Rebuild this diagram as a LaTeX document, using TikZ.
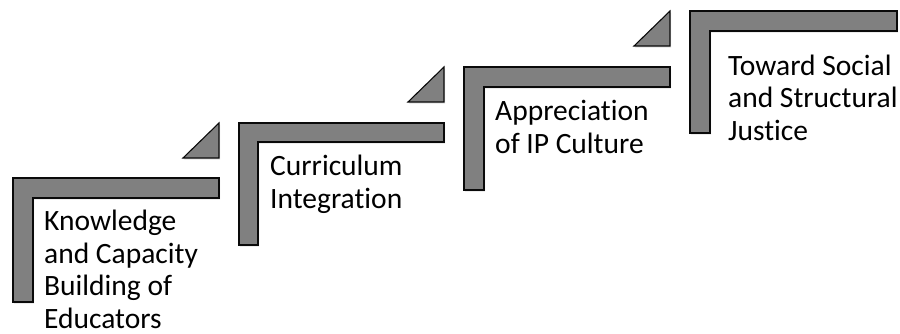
\documentclass[tikz,border=0pt]{standalone}
\usepackage{fontspec}
\setmainfont{Carlito}[Ligatures=NoCommon]
\usetikzlibrary{shadows}
\definecolor{stepgray}{RGB}{128,128,128}
\definecolor{stepedge}{RGB}{10,10,10}

\begin{document}
\begin{tikzpicture}[x=1pt, y=-1pt,
    stepbar/.style={draw=stepedge, line width=1.1pt, fill=stepgray, line join=miter,
        drop shadow={shadow xshift=1pt, shadow yshift=-1.5pt, opacity=0.25, fill=black!45}},
    steptext/.style={anchor=base west, inner sep=0pt, align=left,
        font=\fontsize{29.5}{32.5}\selectfont}]
    \useasboundingbox (0,0) rectangle (900,333);

    % first step (text is placed by the baseline of its last line)
    \draw[stepbar] (13,178) -- (219,178) -- (219,198) -- (33,198) -- (33,302) -- (13,302) -- cycle;
    \draw[stepbar] (219,123) -- (219,158) -- (183,158) -- cycle;
    \node[steptext] (know) at (44,328) {Knowledge\\and Capacity\\Building of\\Educators};

    % second step
    \draw[stepbar] (239,123) -- (444,123) -- (444,142) -- (258,142) -- (258,245) -- (239,245) -- cycle;
    \draw[stepbar] (444,67) -- (444,102) -- (408,102) -- cycle;
    \node[steptext] (curr) at (270,208) {Curriculum\\Integration};

    % third step
    \draw[stepbar] (464,67) -- (670,67) -- (670,87) -- (484,87) -- (484,190) -- (464,190) -- cycle;
    \draw[stepbar] (670,11) -- (670,46) -- (634,46) -- cycle;
    \node[steptext] (appr) at (495,153) {Appreciation\\of IP Culture};

    % last step
    \draw[stepbar] (690,11) -- (897,11) -- (897,31) -- (710,31) -- (710,133) -- (690,133) -- cycle;
    \node[steptext] (just) at (728,140) {Toward Social\\and Structural\\Justice};
\end{tikzpicture}
\end{document}
